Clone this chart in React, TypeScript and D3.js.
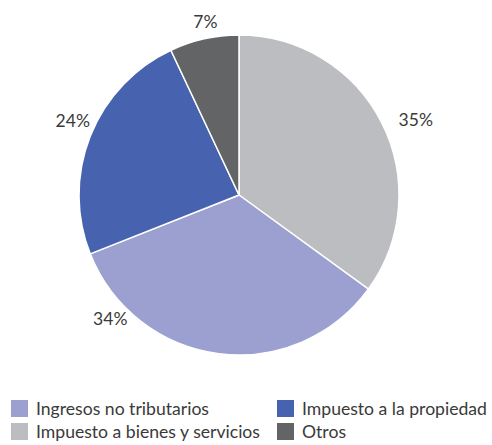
import React from "react";
import * as d3 from "d3";

const categories = ["Impuesto a bienes y servicios", "Ingresos no tributarios", "Impuesto a la propiedad", "Otros"];
const values = [35, 34, 24, 7];
const colors = ["#BCBDC0", "#9BA0D0", "#4763B0", "#636466"];
// label placement (angle in degrees clockwise from top, distance from centre)
const labelAngles = [67, 226, 294, 349];
const labelRadii = [192, 179, 182, 176];
const legendOrder = [1, 2, 0, 3];

export default function App() {
  const W = 492, H = 445;
  const cx = 239, cy = 195, R = 160;
  const pie = d3.pie<number>().sort(null).value((d) => d);
  const arcs = pie(values);
  const arc = d3.arc<d3.PieArcDatum<number>>().innerRadius(0).outerRadius(R);
  const font = "Lato, 'Open Sans', sans-serif";
  return (
    <svg width={W} height={H} style={{ position: "absolute", left: 0, top: 0 }}>
      <g transform={`translate(${cx},${cy})`}>
        {arcs.map((a, i) => (
          <path key={i} d={arc(a) || ""} fill={colors[i]} stroke="#fff" strokeWidth={1.5} />
        ))}
        {arcs.map((a, i) => {
          const t = (labelAngles[i] * Math.PI) / 180;
          const x = labelRadii[i] * Math.sin(t);
          const y = -labelRadii[i] * Math.cos(t);
          return (
            <text key={i} x={x} y={y} dy="0.35em" textAnchor="middle" fontFamily={font} fontSize={17.5} fill="#3a3a3a">
              {a.data}%
            </text>
          );
        })}
      </g>
      {legendOrder.map((ci, k) => {
        const col = k % 2, row = Math.floor(k / 2);
        const x = col === 0 ? 11 : 277;
        const y = 400 + row * 23;
        return (
          <g key={k}>
            <rect x={x} y={y} width={17} height={17} fill={colors[ci]} />
            <text x={x + 25} y={y + 14.5} fontFamily={font} fontSize={17.6} fill="#3a3a3a">
              {categories[ci]}
            </text>
          </g>
        );
      })}
    </svg>
  );
}
